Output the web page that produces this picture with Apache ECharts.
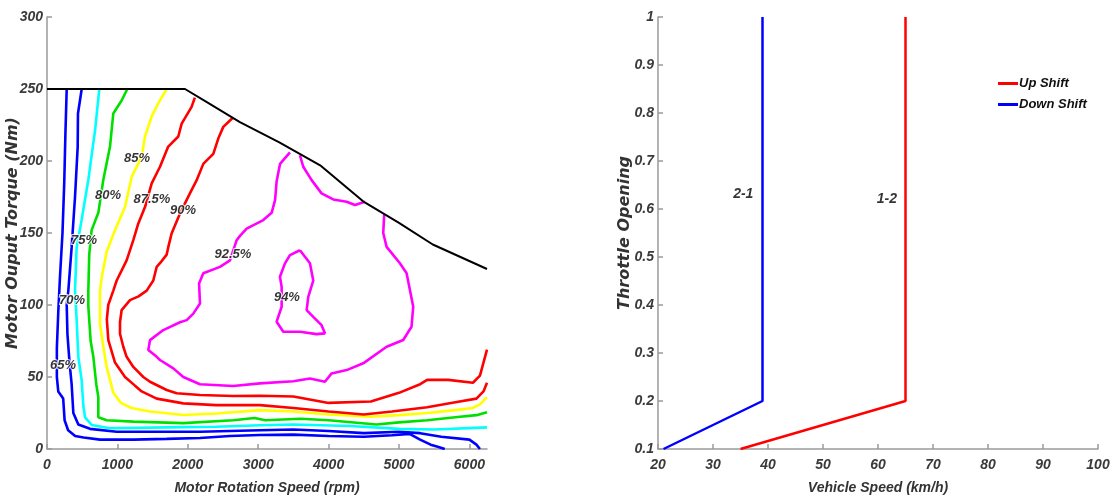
<!DOCTYPE html>
<html>
<head>
<meta charset="utf-8">
<script src="https://cdn.jsdelivr.net/npm/echarts@6/dist/echarts.min.js"></script>
<style>
  html, body { margin: 0; padding: 0; background: #fff; }
  #chart { width: 1114px; height: 501px; }
</style>
</head>
<body>
<div id="chart"></div>
<script>
// efficiency map: [rpm, Nm] points
var maxTorque = [[0,250],[1960,250],[2300,240],[2740,227],[3300,213],[3880,197],[4490,172],[5000,157],[5480,142],[6250,125]];

var eff65 = [[280,250],[262,220],[245,185],[220,150],[185,120],[160,95],[140,70],[140,50],[160,40],[230,35],[250,20],[300,13],[400,9],[520,8],[753,6.5],[1226,6.5],[1700,7],[2173,7.6],[2600,9],[3025,9.7],[3500,10],[4000,9],[4500,8.5],[4900,9.5],[5150,10.5],[5300,6.5],[5450,3],[5550,1.5],[5650,0]];
var eff70 = [[493,250],[440,233],[436,210],[398,175],[350,140],[303,110],[280,100],[290,80],[320,60],[350,45],[374,25],[445,17],[611,14],[990,12],[1600,12],[2173,12],[2600,12.5],[3025,13],[3500,13.5],[4000,12.5],[4500,11],[5000,12],[5300,11],[5600,8.5],[6000,6.5],[6100,3],[6150,0]];
var eff75 = [[743,250],[682,221],[587,187],[492,159],[421,140],[398,110],[421,90],[445,64],[492,48],[516,30],[540,22],[634,16.7],[895,14.4],[1700,15],[2400,15.5],[3025,16.5],[3500,17],[4300,16],[5000,14],[5500,13.5],[6000,14.5],[6250,15]];
var eff80 = [[1141,250],[1060,242],[942,233],[895,210],[800,187],[729,164],[634,152],[600,135],[587,110],[587,99],[620,75],[658,64],[700,45],[729,36],[729,22],[847,20],[1226,19],[1936,18],[2646,20],[2950,21.5],[3100,20],[3600,21],[4000,20],[4680,17],[5000,18.5],[5400,20],[5800,22],[6100,23.5],[6250,25.5]];
var eff85 = [[1700,250],[1580,240],[1487,231],[1392,217],[1345,203],[1203,189],[1108,168],[966,152],[847,137],[780,120],[753,110],[753,87],[800,71],[847,57],[895,48],[942,39],[1050,32],[1200,28.5],[1463,26],[1936,23.6],[2410,24.7],[3025,27],[3500,26],[4000,24],[4587,22.4],[5000,23.5],[5400,25],[5800,27],[6050,28.5],[6150,31],[6250,36]];
var eff875 = [[2100,244],[2054,237.6],[1913,226],[1865,217],[1722,210],[1605,196],[1487,184.5],[1392,168],[1297,156.6],[1226,145],[1131,131],[990,117],[942,110],[870,100],[850,90],[871,75.6],[966,60],[1108,50],[1250,44],[1345,40],[1558,35],[1936,31.7],[2400,30.5],[2646,30.5],[3025,30.5],[3500,28.5],[4000,26],[4500,24],[4900,26],[5400,29],[5800,32.5],[6100,35],[6200,40],[6250,46]];
var eff90 = [[2640,230],[2504,223.7],[2433,215.6],[2362,205],[2220,198],[2126,186.7],[2030,177.5],[1889,163.6],[1770,149.7],[1722,140],[1700,135],[1605,129],[1558,126.5],[1510,117],[1416,110],[1300,106],[1179,103.4],[1060,96.5],[1037,88],[1037,80],[1084,71],[1131,64],[1226,57],[1368,50],[1463,46.7],[1700,41],[1842,38.7],[2173,37.5],[2646,36.8],[3025,37],[3500,36.5],[4000,32],[4600,33],[5000,39],[5300,45],[5400,48],[5700,48],[6050,46],[6150,51],[6200,60],[6250,69]];
var eff925a = [[3451,206],[3310,198],[3262,186],[3240,173],[3191,164],[3072,159],[2836,153],[2741,148],[2694,145],[2599,131],[2457,126.5],[2220,122],[2160,115],[2173,101],[2078,94],[1984,89.5],[1889,88],[1652,82.6],[1463,75.6],[1439,68.7],[1558,64],[1605,61.8],[1794,56],[1936,50],[2173,45],[2646,43.8],[3025,45.6],[3500,47],[3735,49],[3948,46.7],[4043,52.5],[4256,54.8],[4492,59.5],[4824,71],[5060,75.7],[5178,84.9],[5202,98.8],[5108,122],[5013,129],[4824,140.4],[4776,150],[4790,163]];
var eff925b = [[3593,204],[3640,196],[3759,186.7],[3900,177.5],[4066,173.3],[4256,171.7],[4374,169.4],[4516,171.7]];
var eff94 = [[3593,138],[3735,129],[3782,117],[3711,105.7],[3688,96.5],[3782,91.8],[3900,86],[3948,80.3],[3830,79.8],[3593,81.4],[3356,81.4],[3262,88.4],[3333,98.8],[3333,112.6],[3309,119.6],[3380,128.9],[3451,134.6],[3593,138]];

var labelText = ['65%', '70%', '75%', '80%', '85%', '87.5%', '90%', '92.5%', '94%'];
var labelRpm = [227, 355, 525, 866, 1278, 1491, 1931, 2640, 3408];
var labelNm = [58, 103, 145, 176, 202, 173, 166, 135, 105.5];

// shift schedule
var upSpeed = [35, 65, 65];
var upThrottle = [0.1, 0.2, 1];
var downSpeed = [21, 39, 39];
var downThrottle = [0.1, 0.2, 1];
var shiftText = ['2-1', '1-2'];
var shiftTextSpeed = [35.5, 61.6];
var shiftTextThrottle = [0.63, 0.62];

var face = '"Liberation Sans", Arial, sans-serif';
var wide = '"DejaVu Sans", Verdana, sans-serif';

function contour(pts, color) {
	return {
		type: 'line', xAxisIndex: 0, yAxisIndex: 0,
		data: pts, showSymbol: false, symbol: 'none', silent: true,
		lineStyle: {color: color, width: 2.6}
	};
}

function pairs(xs, ys) {
	var out = [];
	for (var i = 0; i < xs.length; i++) {
		out.push([xs[i], ys[i]]);
	}
	return out;
}

function tickLabel(extra) {
	return Object.assign({
		color: '#3a3a3a', fontFamily: face, fontStyle: 'italic', fontWeight: 'bold', fontSize: 14
	}, extra);
}
var axisLine = {lineStyle: {color: '#9a9a9a', width: 1.5}};
var axisTick = {inside: true, length: 5, lineStyle: {color: '#9a9a9a', width: 1.5}};
var nameFont = {color: '#333', fontFamily: face, fontStyle: 'italic', fontWeight: 'bold', fontSize: 14};
var vNameFont = {color: '#333', fontFamily: wide, fontStyle: 'italic', fontWeight: 'bold', fontSize: 16};

var labelPts = [];
for (var i = 0; i < labelText.length; i++) {
	labelPts.push({name: labelText[i], value: [labelRpm[i], labelNm[i]]});
}
var shiftPts = [];
for (var i = 0; i < shiftText.length; i++) {
	shiftPts.push({name: shiftText[i], value: [shiftTextSpeed[i], shiftTextThrottle[i]]});
}

var chart = echarts.init(document.getElementById('chart'), null, {renderer: 'canvas'});
chart.setOption({
	animation: false,
	backgroundColor: '#fff',
	grid: [
		{left: 47, top: 17, width: 440, height: 432},
		{left: 658, top: 17, width: 440, height: 432}
	],
	legend: {
		data: ['Up Shift', 'Down Shift'],
		orient: 'vertical', left: 993, top: 72,
		itemWidth: 20, itemHeight: 3, itemGap: 8, icon: 'rect',
		textStyle: {color: '#111', fontFamily: face, fontStyle: 'italic', fontWeight: 'bold', fontSize: 13, padding: [0, 0, 0, -4]}
	},
	xAxis: [
		{
			gridIndex: 0, type: 'value', min: 0, max: 6250, interval: 1000,
			name: 'Motor Rotation Speed (rpm)', nameLocation: 'middle', nameGap: 32, nameMoveOverlap: false,
			nameTextStyle: nameFont,
			axisLine: axisLine, axisTick: axisTick, splitLine: {show: false},
			axisLabel: tickLabel({showMaxLabel: false, margin: 9, formatter: function (v) { return String(v); }})
		},
		{
			gridIndex: 1, type: 'value', min: 20, max: 100, interval: 10,
			name: 'Vehicle Speed (km/h)', nameLocation: 'middle', nameGap: 32, nameMoveOverlap: false,
			nameTextStyle: nameFont,
			axisLine: axisLine, axisTick: axisTick, splitLine: {show: false},
			axisLabel: tickLabel({margin: 9})
		}
	],
	yAxis: [
		{
			gridIndex: 0, type: 'value', min: 0, max: 300, interval: 50,
			name: 'Motor Ouput Torque (Nm)', nameLocation: 'middle', nameGap: 26, nameMoveOverlap: false,
			nameTextStyle: vNameFont,
			axisLine: axisLine, axisTick: axisTick, splitLine: {show: false},
			axisLabel: tickLabel({margin: 4})
		},
		{
			gridIndex: 1, type: 'value', min: 0.1, max: 1, interval: 0.1,
			name: 'Throttle Opening', nameLocation: 'middle', nameGap: 25, nameMoveOverlap: false,
			nameTextStyle: vNameFont,
			axisLine: axisLine, axisTick: axisTick, splitLine: {show: false},
			axisLabel: tickLabel({margin: 4, formatter: function (v) { return String(+v.toFixed(1)); }})
		}
	],
	series: [
		contour(eff65, '#0000ff'),
		contour(eff70, '#0000ff'),
		contour(eff75, '#00ffff'),
		contour(eff80, '#00e000'),
		contour(eff85, '#ffff00'),
		contour(eff875, '#ff0000'),
		contour(eff90, '#ff0000'),
		contour(eff925a, '#ff00ff'),
		contour(eff925b, '#ff00ff'),
		contour(eff94, '#ff00ff'),
		{
			type: 'line', xAxisIndex: 0, yAxisIndex: 0, data: maxTorque,
			showSymbol: false, symbol: 'none', silent: true, z: 5,
			lineStyle: {color: '#000', width: 2}
		},
		{
			type: 'scatter', xAxisIndex: 0, yAxisIndex: 0, data: labelPts,
			symbolSize: 0, silent: true, z: 6,
			label: {
				show: true, position: 'inside', formatter: '{b}',
				color: '#000', fontFamily: face, fontStyle: 'italic', fontWeight: 'bold', fontSize: 13,
				textBorderColor: '#fff', textBorderWidth: 2
			}
		},
		{
			name: 'Up Shift', type: 'line', xAxisIndex: 1, yAxisIndex: 1,
			data: pairs(upSpeed, upThrottle), showSymbol: false, symbol: 'none',
			itemStyle: {color: '#ff0000'}, lineStyle: {color: '#ff0000', width: 2.5}
		},
		{
			name: 'Down Shift', type: 'line', xAxisIndex: 1, yAxisIndex: 1,
			data: pairs(downSpeed, downThrottle), showSymbol: false, symbol: 'none',
			itemStyle: {color: '#0000ff'}, lineStyle: {color: '#0000ff', width: 2.5}
		},
		{
			type: 'scatter', xAxisIndex: 1, yAxisIndex: 1, data: shiftPts,
			symbolSize: 0, silent: true,
			label: {
				show: true, position: 'inside', formatter: '{b}',
				color: '#000', fontFamily: face, fontStyle: 'italic', fontWeight: 'bold', fontSize: 14
			}
		}
	]
});
</script>
</body>
</html>
